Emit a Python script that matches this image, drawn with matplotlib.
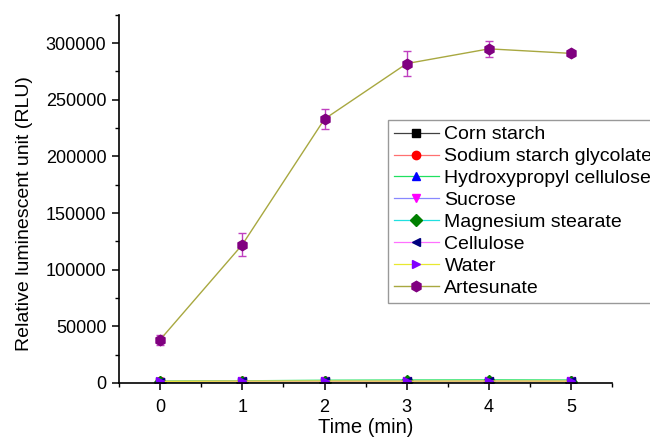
import matplotlib
matplotlib.use("Agg")
import matplotlib.pyplot as plt
from matplotlib.ticker import MultipleLocator

plt.rcParams['font.family'] = ['Liberation Sans', 'DejaVu Sans']

time_min = [0, 1, 2, 3, 4, 5]

# low-signal excipients (read as ~1-3k RLU, sitting on the axis)
corn_starch = [800, 900, 1000, 1000, 1100, 1000]
sodium_starch_glycolate = [1200, 1500, 1300, 1200, 1400, 1300]
hydroxypropyl_cellulose = [1500, 1800, 2300, 2500, 2600, 2500]
sucrose = [1000, 1200, 1300, 1300, 1300, 1200]
magnesium_stearate = [900, 1000, 1100, 1200, 1200, 1100]
cellulose = [1100, 1300, 1200, 1300, 1400, 1300]
water = [1300, 1500, 1600, 1500, 1600, 1500]

artesunate = [38000, 122000, 233000, 282000, 295000, 291000]
artesunate_err = [4500, 10000, 9000, 11000, 7000, 2000]

# (label, values, line colour, marker, marker colour)
series = [
    ("Corn starch", corn_starch, "#404040", "s", "black"),
    ("Sodium starch glycolate", sodium_starch_glycolate, "#ff7070", "o", "red"),
    ("Hydroxypropyl cellulose", hydroxypropyl_cellulose, "#20e060", "^", "blue"),
    ("Sucrose", sucrose, "#8888ff", "v", "magenta"),
    ("Magnesium stearate", magnesium_stearate, "#20e0e0", "D", "#008000"),
    ("Cellulose", cellulose, "#ff70ff", "<", "#000080"),
    ("Water", water, "#e8e830", ">", "#8000ff"),
]

fig = plt.figure(figsize=(6.5, 4.38), dpi=100)
ax = fig.add_axes([0.183, 0.126, 0.759, 0.84])

for label, vals, lc, mk, mc in series:
    ax.plot(time_min, vals, color=lc, lw=0.9, marker=mk, ms=6,
            mfc=mc, mec=mc, label=label)

ax.errorbar(time_min, artesunate, yerr=artesunate_err, color="#a8a840", lw=1.0,
            marker="h", ms=7.5, mfc="#800080", mec="#800080",
            ecolor="#c040c0", elinewidth=1.0, capsize=3)
# legend entry without the error bar
ax.plot([], [], color="#a8a840", lw=1.0, marker="h", ms=7.5,
        mfc="#800080", mec="#800080", label="Artesunate")

ax.set_xlim(-0.5, 5.5)
ax.set_ylim(0, 325000)
ax.xaxis.set_major_locator(MultipleLocator(1))
ax.xaxis.set_minor_locator(MultipleLocator(0.5))
ax.yaxis.set_major_locator(MultipleLocator(50000))
ax.yaxis.set_minor_locator(MultipleLocator(25000))

for side in ("top", "right"):
    ax.spines[side].set_visible(False)
for side in ("left", "bottom"):
    ax.spines[side].set_linewidth(1.2)

ax.tick_params(which="major", direction="out", length=5, width=1.1, labelsize=13)
ax.tick_params(axis="x", which="major", pad=7)
ax.tick_params(axis="y", which="major", pad=4)
ax.tick_params(which="minor", direction="out", length=3, width=1.0)

ax.set_xlabel("Time (min)", fontsize=14.5, labelpad=1)
ax.set_ylabel("Relative luminescent unit (RLU)", fontsize=14)
ax.yaxis.set_label_coords(-0.174, 0.46)

# legend box runs past the right edge of the figure, as in the original
leg = ax.legend(loc="upper left", bbox_to_anchor=(0.597, 0.726),
                bbox_transform=fig.transFigure, fontsize=14, frameon=True,
                fancybox=False, edgecolor="#808080", labelspacing=0.22,
                handlelength=2.3, handletextpad=0.3, borderpad=0.3,
                borderaxespad=0)
leg.get_frame().set_linewidth(1.0)

fig.savefig("out.png", dpi=100)
